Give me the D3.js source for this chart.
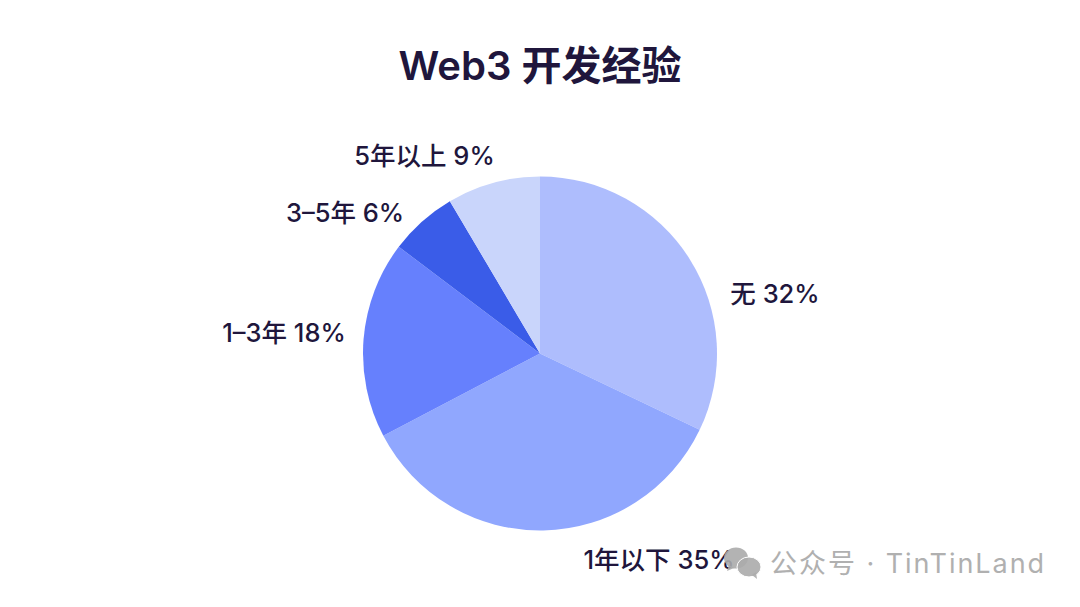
<!DOCTYPE html>
<html><head><meta charset="utf-8"><style>html,body{margin:0;background:#fff}</style>
<script src="https://cdn.jsdelivr.net/npm/d3@7"></script></head><body><svg id="c" width="1080" height="607"></svg>
<script>
const categories=["无","1年以下","1-3年","3-5年","5年以上"];
const values=[32.1,35.2,18,6.2,8.5];
const labels=["无 32%","1年以下 35%","1–3年 18%","3–5年 6%","5年以上 9%"];
const colors=["#aebdfd","#90a7fe","#6680fd","#3a5ce8","#c9d5fb"];
const labelPos=[[775,294],[659,560],[284,333],[345,213],[424.5,156]];
const font='Inter,"Noto Sans CJK SC",sans-serif';
const svg=d3.select("#c");
const cx=540,cy=353.5,r=177;
const pie=d3.pie().sort(null)(values);
const arc=d3.arc().innerRadius(0).outerRadius(r);
const g=svg.append("g").attr("transform",`translate(${cx},${cy})`);
g.selectAll("path").data(pie).join("path").attr("d",arc).attr("fill",(d,i)=>colors[i]);
svg.append("text").attr("x",540).attr("y",80).attr("text-anchor","middle").attr("font-family",font).attr("font-size",40).attr("font-weight",600).attr("fill","#20163c").text("Web3 开发经验");
svg.selectAll("text.l").data(labels).join("text").attr("class","l").attr("x",(d,i)=>labelPos[i][0]).attr("y",(d,i)=>labelPos[i][1]+8.5).attr("text-anchor","middle").attr("font-family",font).attr("font-size",25.5).attr("font-weight",500).attr("fill","#20163c").text(d=>d);
// watermark
const wm=svg.append("g").attr("fill","#ababab").attr("fill-opacity",0.9);
wm.append("ellipse").attr("cx",736).attr("cy",558).attr("rx",12).attr("ry",10.5);
wm.append("path").attr("d","M729 565l-2 6 7-3z");
wm.append("ellipse").attr("cx",749).attr("cy",567).attr("rx",12).attr("ry",10).attr("stroke","#fff").attr("stroke-width",1);
wm.append("path").attr("d","M752 575l5 4-1-7z");
svg.append("text").attr("x",770).attr("y",573).attr("font-family",font).attr("font-size",27).attr("letter-spacing",1.95).attr("fill","#b0b0b0").text("公众号 · TinTinLand");
</script></body></html>
